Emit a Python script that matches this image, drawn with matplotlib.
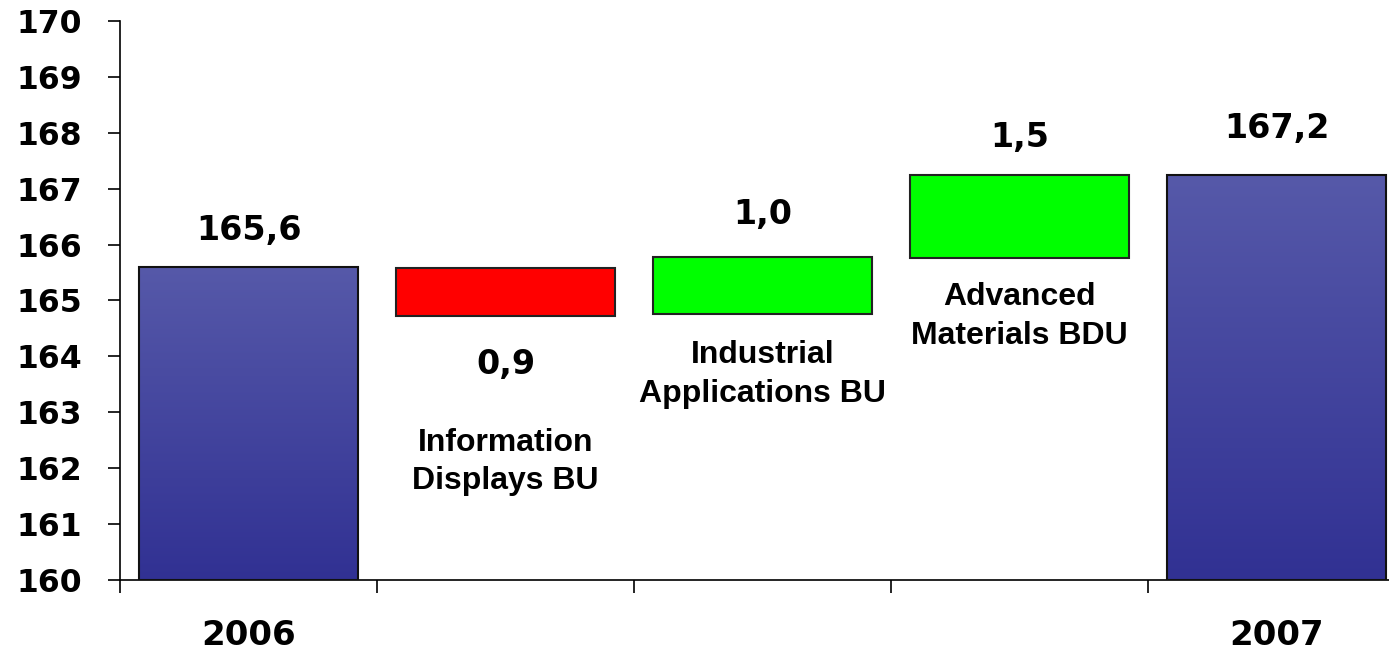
import matplotlib.pyplot as plt
import numpy as np
from matplotlib.colors import LinearSegmentedColormap

plt.rcParams['font.family'] = ['DejaVu Sans']
plt.rcParams['font.weight'] = 'bold'

# Data (waterfall, values in comma-decimal)
categories = ['2006', 'Information\nDisplays BU', 'Industrial\nApplications BU',
              'Advanced\nMaterials BDU', '2007']
bar_bottoms = [160.0, 164.72, 164.75, 165.76, 160.0]
bar_tops = [165.6, 165.58, 165.77, 167.24, 167.24]
value_labels = [165.6, 0.9, 1.0, 1.5, 167.2]
kinds = ['total', 'down', 'up', 'up', 'total']

# layout: where the in-plot category names sit (data y), label offsets (pt)
name_y = [None, 162.11, 163.67, 164.72, None]
label_off = [26, -35, 31, 27, 34]

fig = plt.figure(figsize=(13.89, 6.5), dpi=100)
ax = fig.add_axes([120 / 1389, 70 / 650, 1285 / 1389, 559 / 650])

blue_grad = LinearSegmentedColormap.from_list('blue', ['#313193', '#5659a9'])
fills = {'up': '#00ff00', 'down': '#ff0000'}
width = 0.85
grad = np.linspace(0, 1, 256).reshape(-1, 1)

for i, (b, t, kind) in enumerate(zip(bar_bottoms, bar_tops, kinds)):
    if kind == 'total':
        bars = ax.bar(i, t - b, bottom=b, width=width, facecolor='none',
                      edgecolor='#111111', linewidth=1.5, zorder=3)
        im = ax.imshow(grad, extent=[i - width / 2, i + width / 2, b, t],
                       origin='lower', aspect='auto', cmap=blue_grad, zorder=2)
        im.set_clip_path(bars[0])
    else:
        ax.bar(i, t - b, bottom=b, width=width, color=fills[kind],
               edgecolor='#222222', linewidth=1.5, zorder=3)

    txt = f'{value_labels[i]:.1f}'.replace('.', ',')
    anchor = b if kind == 'down' else t
    ax.annotate(txt, (i, anchor), xytext=(0, label_off[i]),
                textcoords='offset points', ha='center', va='center',
                fontsize=24, fontweight='bold')

    if name_y[i] is not None:
        ax.text(i, name_y[i], categories[i], ha='center', va='center',
                fontsize=23, fontweight='bold', linespacing=1.38,
                family=['Liberation Sans', 'DejaVu Sans'])

ax.set_xlim(-0.5, 4.5)
ax.set_ylim(160, 170)

ax.set_yticks(np.arange(160, 171, 1))
ax.tick_params(axis='y', length=9, width=1.2, pad=18, labelsize=22.7)

ax.set_xticks(np.arange(-0.5, 5, 1))
ax.set_xticklabels([])
ax.tick_params(axis='x', which='major', length=9, width=1.2)
ax.set_xticks(np.arange(5), minor=True)
ax.set_xticklabels([c if k == 'total' else '' for c, k in zip(categories, kinds)],
                   minor=True)
ax.tick_params(axis='x', which='minor', length=0, pad=28, labelsize=24.5)

for s in ['top', 'right']:
    ax.spines[s].set_visible(False)
for s in ['left', 'bottom']:
    ax.spines[s].set_linewidth(1.2)

fig.savefig('out.png', dpi=100)
